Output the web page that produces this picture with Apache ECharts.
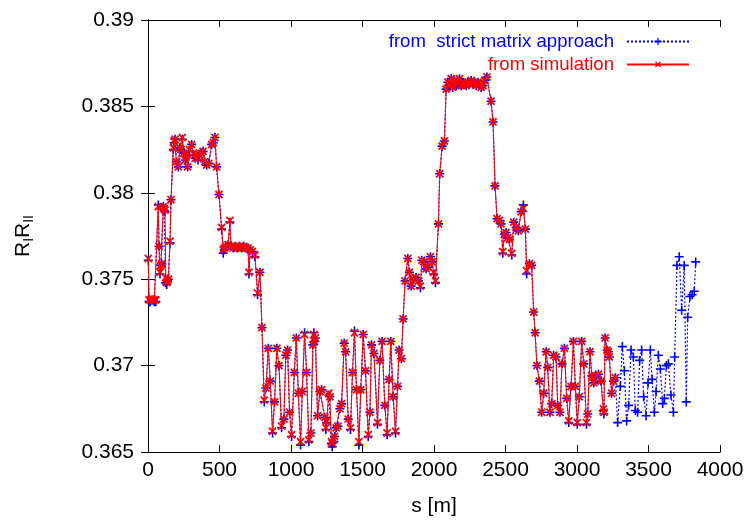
<!DOCTYPE html>
<html>
<head>
<meta charset="utf-8">
<script src="https://cdn.jsdelivr.net/npm/echarts@6/dist/echarts.min.js"></script>
<style>html,body{margin:0;padding:0;background:#fff}#c{width:750px;height:523px}</style>
</head>
<body>
<div id="c"></div>
<script>
// ---- data ----
var xTicks = [0, 500, 1000, 1500, 2000, 2500, 3000, 3500, 4000];
var yTicks = [0.365, 0.37, 0.375, 0.38, 0.385, 0.39];
var seriesNames = ['from  strict matrix approach', 'from simulation'];

var sMatrix = [2,7,15,26,36,44,55,72,77,84,90,96,107,113,119,124,131,136,142,154,161,177,183,189,200,212,222,231,240,250,260,270,277,290,305,317,330,340,350,360,372,385,397,410,425,445,457,468,480,496,515,526,533,545,560,573,580,595,610,625,640,655,670,685,700,706,715,730,748,766,783,797,813,825,841,855,871,885,901,916,934,950,964,976,990,1004,1023,1037,1051,1067,1079,1095,1109,1125,1139,1153,1160,1165,1170,1186,1202,1214,1237,1244,1249,1265,1272,1283,1288,1300,1305,1316,1328,1342,1354,1372,1382,1400,1416,1430,1444,1458,1475,1488,1505,1521,1540,1552,1563,1580,1605,1621,1637,1656,1672,1686,1698,1714,1731,1745,1756,1772,1784,1798,1817,1828,1840,1857,1874,1891,1905,1915,1929,1945,1957,1975,1987,1998,2010,2031,2040,2057,2073,2085,2097,2108,2120,2131,2143,2155,2166,2178,2190,2201,2213,2225,2236,2248,2260,2272,2283,2295,2307,2318,2330,2342,2355,2370,2399,2413,2427,2441,2457,2469,2481,2492,2504,2516,2528,2544,2558,2574,2590,2609,2625,2639,2648,2667,2683,2697,2707,2720,2737,2753,2767,2784,2795,2811,2823,2837,2853,2865,2881,2895,2912,2928,2942,2958,2975,2988,3002,3016,3033,3047,3066,3075,3091,3103,3117,3133,3150,3168,3184,3188,3197,3210,3219,3226,3242,3256,3268,3284,3303,3317,3331,3347,3361,3378,3394,3408,3424,3438,3452,3466,3483,3497,3513,3525,3541,3553,3569,3583,3599,3611,3625,3639,3657,3674,3683,3699,3715,3732,3750,3764,3774,3790,3805,3820,3830];
var rMatrix = [0.3761,0.3737,0.3737,0.3738,0.3738,0.3737,0.3737,0.3793,0.3769,0.3753,0.3758,0.3759,0.3792,0.3790,0.3789,0.3748,0.3747,0.3749,0.3750,0.3771,0.3796,0.3825,0.3829,0.3831,0.3818,0.3815,0.3826,0.3825,0.3831,0.3823,0.3819,0.3821,0.3815,0.3824,0.3828,0.3822,0.3820,0.3821,0.3819,0.3822,0.3823,0.3824,0.3818,0.3816,0.3817,0.3828,0.3829,0.3832,0.3815,0.3799,0.3779,0.3765,0.3767,0.3769,0.3770,0.3783,0.3769,0.3768,0.3769,0.3768,0.3769,0.3768,0.3769,0.3768,0.3768,0.3753,0.3767,0.3766,0.3763,0.3741,0.3754,0.3722,0.3679,0.3687,0.3710,0.3691,0.3661,0.3679,0.3710,0.3700,0.3664,0.3669,0.3706,0.3709,0.3673,0.3659,0.3696,0.3716,0.3684,0.3654,0.3685,0.3719,0.3696,0.3656,0.3661,0.3712,0.3719,0.3714,0.3716,0.3671,0.3685,0.3686,0.3670,0.3663,0.3667,0.3683,0.3682,0.3655,0.3653,0.3656,0.3659,0.3664,0.3665,0.3675,0.3678,0.3713,0.3708,0.3669,0.3663,0.3696,0.3720,0.3686,0.3654,0.3686,0.3718,0.3697,0.3659,0.3673,0.3712,0.3707,0.3666,0.3703,0.3714,0.3677,0.3660,0.3692,0.3714,0.3682,0.3661,0.3688,0.3709,0.3704,0.3727,0.3749,0.3762,0.3754,0.3746,0.3750,0.3751,0.3749,0.3745,0.3761,0.3760,0.3756,0.3757,0.3763,0.3760,0.3753,0.3748,0.3782,0.3811,0.3827,0.3830,0.3860,0.3864,0.3862,0.3866,0.3861,0.3865,0.3862,0.3864,0.3866,0.3862,0.3864,0.3863,0.3862,0.3864,0.3863,0.3865,0.3863,0.3864,0.3862,0.3864,0.3863,0.3861,0.3862,0.3865,0.3867,0.3853,0.3841,0.3804,0.3785,0.3784,0.3782,0.3765,0.3776,0.3777,0.3774,0.3773,0.3764,0.3783,0.3780,0.3778,0.3789,0.3793,0.3779,0.3753,0.3759,0.3758,0.3731,0.3719,0.3700,0.3691,0.3673,0.3684,0.3708,0.3699,0.3673,0.3678,0.3706,0.3705,0.3677,0.3673,0.3701,0.3710,0.3681,0.3667,0.3688,0.3714,0.3688,0.3666,0.3682,0.3714,0.3701,0.3666,0.3672,0.3708,0.3694,0.3690,0.3694,0.3695,0.3691,0.3674,0.3672,0.3716,0.3709,0.3708,0.3705,0.3684,0.3691,0.3693,0.3667,0.3688,0.3711,0.3697,0.3668,0.3677,0.3709,0.3705,0.3674,0.3673,0.3703,0.3709,0.3682,0.3671,0.3690,0.3709,0.3692,0.3673,0.3685,0.3706,0.3698,0.3678,0.3681,0.3700,0.3701,0.3683,0.3673,0.3705,0.3758,0.3763,0.3732,0.3758,0.3679,0.3728,0.3740,0.3741,0.3743,0.3760];

var sSim = [2,7,15,26,36,44,55,72,77,84,90,96,107,113,119,124,131,136,142,154,161,177,183,189,200,212,222,231,240,250,260,270,277,290,305,317,330,340,350,360,372,385,397,410,425,445,457,468,480,496,515,526,533,545,560,573,580,595,610,625,640,655,670,685,700,706,715,730,748,766,783,797,813,825,841,855,871,885,901,916,934,950,964,976,990,1004,1023,1037,1051,1067,1079,1095,1109,1125,1139,1153,1160,1165,1170,1186,1202,1214,1237,1244,1249,1265,1272,1283,1288,1300,1305,1316,1328,1342,1354,1372,1382,1400,1416,1430,1444,1458,1475,1488,1505,1521,1540,1552,1563,1580,1605,1621,1637,1656,1672,1686,1698,1714,1731,1745,1756,1772,1784,1798,1817,1828,1840,1857,1874,1891,1905,1915,1929,1945,1957,1975,1987,1998,2010,2031,2040,2057,2073,2085,2097,2108,2120,2131,2143,2155,2166,2178,2190,2201,2213,2225,2236,2248,2260,2272,2283,2295,2307,2318,2330,2342,2355,2370,2399,2413,2427,2441,2457,2469,2481,2492,2504,2516,2528,2544,2558,2574,2590,2609,2625,2639,2648,2667,2683,2697,2707,2720,2737,2753,2767,2784,2795,2811,2823,2837,2853,2865,2881,2895,2912,2928,2942,2958,2975,2988,3002,3016,3033,3047,3066,3075,3091,3103,3117,3133,3150,3168,3184,3188,3197,3210,3219,3226,3242,3256,3268];
var rSim = [0.3762,0.3738,0.3738,0.3739,0.3738,0.3738,0.3738,0.3792,0.3769,0.3754,0.3758,0.3759,0.3792,0.3791,0.3790,0.3751,0.3748,0.3749,0.3750,0.3772,0.3796,0.3826,0.3830,0.3831,0.3818,0.3815,0.3826,0.3825,0.3832,0.3823,0.3819,0.3822,0.3815,0.3825,0.3828,0.3823,0.3820,0.3822,0.3820,0.3822,0.3823,0.3824,0.3818,0.3816,0.3817,0.3828,0.3829,0.3832,0.3815,0.3799,0.3780,0.3767,0.3768,0.3769,0.3770,0.3784,0.3769,0.3768,0.3769,0.3768,0.3769,0.3768,0.3769,0.3768,0.3768,0.3754,0.3767,0.3766,0.3764,0.3742,0.3754,0.3722,0.3680,0.3687,0.3710,0.3691,0.3662,0.3679,0.3710,0.3700,0.3665,0.3669,0.3706,0.3709,0.3673,0.3660,0.3696,0.3716,0.3684,0.3656,0.3685,0.3718,0.3696,0.3657,0.3661,0.3712,0.3718,0.3714,0.3716,0.3671,0.3685,0.3686,0.3670,0.3664,0.3668,0.3684,0.3682,0.3656,0.3655,0.3657,0.3659,0.3664,0.3665,0.3675,0.3678,0.3713,0.3708,0.3669,0.3664,0.3696,0.3719,0.3686,0.3656,0.3686,0.3718,0.3697,0.3660,0.3673,0.3712,0.3707,0.3667,0.3703,0.3714,0.3677,0.3661,0.3692,0.3714,0.3682,0.3662,0.3688,0.3709,0.3704,0.3727,0.3749,0.3762,0.3754,0.3746,0.3750,0.3751,0.3749,0.3746,0.3761,0.3760,0.3756,0.3757,0.3763,0.3760,0.3754,0.3749,0.3782,0.3811,0.3827,0.3830,0.3860,0.3864,0.3862,0.3866,0.3861,0.3865,0.3862,0.3864,0.3866,0.3862,0.3864,0.3863,0.3862,0.3864,0.3863,0.3865,0.3863,0.3864,0.3862,0.3864,0.3863,0.3861,0.3862,0.3865,0.3867,0.3853,0.3841,0.3804,0.3785,0.3784,0.3782,0.3766,0.3776,0.3777,0.3774,0.3773,0.3765,0.3783,0.3780,0.3778,0.3789,0.3791,0.3779,0.3755,0.3759,0.3758,0.3731,0.3719,0.3700,0.3691,0.3673,0.3684,0.3708,0.3699,0.3673,0.3678,0.3706,0.3705,0.3677,0.3673,0.3701,0.3710,0.3681,0.3668,0.3688,0.3714,0.3688,0.3667,0.3682,0.3714,0.3701,0.3667,0.3672,0.3708,0.3694,0.3690,0.3694,0.3695,0.3691,0.3675,0.3673,0.3716,0.3709,0.3708,0.3705,0.3684,0.3691,0.3693];

// ---- chart ----
function pairs(xs, ys) { var out = []; for (var i = 0; i < xs.length; i++) out.push([xs[i], ys[i]]); return out; }
var plusPath = 'path://M4.1,0H5.9V4.1H10V5.9H5.9V10H4.1V5.9H0V4.1H4.1Z';
var FONT = '"Liberation Sans", Arial, sans-serif';
var chart = echarts.init(document.getElementById('c'), null, {renderer: 'canvas'});
var axisCommon = {
  type: 'value',
  axisLine: {show: true, lineStyle: {color: '#000', width: 1}},
  axisTick: {show: true, inside: true, length: 7, lineStyle: {color: '#000'}},
  splitLine: {show: false}
};
chart.setOption({
  animation: false,
  backgroundColor: '#fff',
  grid: {left: 148, right: 30, top: 20, bottom: 71},
  legend: {
    orient: 'vertical', right: 55, top: 27, align: 'right', itemGap: 4,
    itemWidth: 62, itemHeight: 9,
    textStyle: {fontSize: 18.6, fontFamily: FONT, padding: [0, 8, 0, 0]},
    data: [
      {name: seriesNames[0], textStyle: {color: '#0000ff'}},
      {name: seriesNames[1], textStyle: {color: '#ff0000'}}
    ]
  },
  xAxis: [
    Object.assign({}, axisCommon, {
      position: 'bottom', min: xTicks[0], max: xTicks[xTicks.length - 1], interval: 500,
      axisLabel: {color: '#000', fontSize: 21, fontFamily: FONT, margin: 8,
        formatter: function (v) { return String(v); }},
      name: 's [m]', nameLocation: 'middle', nameGap: 44,
      nameTextStyle: {color: '#000', fontSize: 21, fontFamily: FONT}
    }),
    Object.assign({}, axisCommon, {
      position: 'top', min: xTicks[0], max: xTicks[xTicks.length - 1], interval: 500,
      axisLabel: {show: false}
    })
  ],
  yAxis: [
    Object.assign({}, axisCommon, {
      position: 'left', min: yTicks[0], max: yTicks[yTicks.length - 1], interval: 0.005,
      axisLabel: {color: '#000', fontSize: 21, fontFamily: FONT, margin: 14,
        formatter: function (v) { return String(+v.toFixed(3)); }},
      name: '{r|R}{s|I}{r|R}{s|II}', nameLocation: 'middle', nameGap: 112, nameRotate: 90,
      nameTextStyle: {color: '#000', fontFamily: FONT,
        rich: {r: {fontSize: 21, fontFamily: FONT, color: '#000'},
               s: {fontSize: 14, fontFamily: FONT, color: '#000', padding: [12, 0, 0, 0]}}}
    }),
    Object.assign({}, axisCommon, {
      position: 'right', min: yTicks[0], max: yTicks[yTicks.length - 1], interval: 0.005,
      axisLabel: {show: false}
    })
  ],
  series: [
    {
      name: seriesNames[0], type: 'line', xAxisIndex: 0, yAxisIndex: 0,
      data: pairs(sMatrix, rMatrix),
      symbol: plusPath, symbolSize: 9, showAllSymbol: true,
      lineStyle: {color: '#0000ff', width: 1.2, type: [2, 2]},
      itemStyle: {color: '#0000ff'},
      z: 2
    },
    {
      name: seriesNames[1], type: 'line', xAxisIndex: 0, yAxisIndex: 0,
      data: pairs(sSim, rSim),
      symbol: plusPath, symbolSize: 10, symbolRotate: 45, showAllSymbol: true,
      lineStyle: {color: '#ff0000', width: 1},
      itemStyle: {color: '#ff0000'},
      z: 3
    }
  ]
});
</script>
</body>
</html>
